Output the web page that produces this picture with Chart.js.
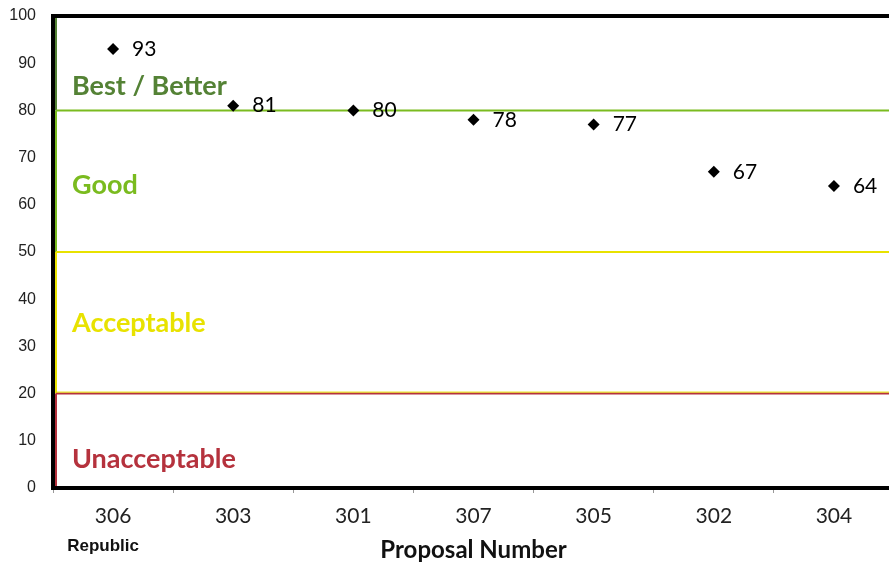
<!DOCTYPE html>
<html>
<head>
<meta charset="utf-8">
<script src="https://cdn.jsdelivr.net/npm/chart.js@4"></script>
<style>
  body { margin: 0; overflow: hidden; background: #fff; }
  #wrap { width: 900px; height: 565px; }
</style>
</head>
<body>
<div id="wrap"><canvas id="chart" width="900" height="565"></canvas></div>
<script>
// proposals and their scores
const proposals = ['306', '303', '301', '307', '305', '302', '304'];
const scores = [93, 81, 80, 78, 77, 67, 64];

// rating bands
const bandNames = ['Best / Better', 'Good', 'Acceptable', 'Unacceptable'];
const bandFrom = [80, 50, 20, 0];
const bandTo = [100, 80, 50, 20];
const bandColors = ['#548235', '#7abb1f', '#e8e200', '#b5323d'];
const bandLabelAt = [85.2, 64.2, 34.8, 6.1];

// bands: coloured edges + their names
const bands = {
    id: 'bands',
    beforeDatasetsDraw(chart) {
        const ctx = chart.ctx;
        const a = chart.chartArea;
        const y = chart.scales.y;
        ctx.save();
        ctx.lineWidth = 2;
        for (let i = 0; i < bandNames.length; i++) {
            const top = y.getPixelForValue(bandTo[i]);
            const bot = y.getPixelForValue(bandFrom[i]);
            ctx.strokeStyle = bandColors[i];
            ctx.beginPath();
            // left edge
            ctx.moveTo(a.left + 3, Math.min(bot, a.bottom - 2));
            ctx.lineTo(a.left + 3, Math.max(top, a.top + 2));
            // top edge (the top band sits under the frame)
            if (bandTo[i] < 100) {
                ctx.moveTo(a.left + 3, top);
                ctx.lineTo(a.right, top);
            }
            ctx.stroke();
        }
        // thin yellow edge above the red line
        const y20 = y.getPixelForValue(20);
        ctx.strokeStyle = bandColors[2];
        ctx.lineWidth = 1;
        ctx.beginPath();
        ctx.moveTo(a.left + 3, y20 - 1.5);
        ctx.lineTo(a.right, y20 - 1.5);
        ctx.stroke();

        ctx.font = 'bold 27px Lato';
        ctx.textBaseline = 'middle';
        for (let i = 0; i < bandNames.length; i++) {
            ctx.fillStyle = bandColors[i];
            ctx.fillText(bandNames[i], a.left + 19, y.getPixelForValue(bandLabelAt[i]));
        }
        ctx.restore();
    },
    afterDraw(chart) {
        const ctx = chart.ctx;
        const a = chart.chartArea;
        ctx.save();
        // top frame
        ctx.strokeStyle = '#000';
        ctx.lineWidth = 4;
        ctx.beginPath();
        ctx.moveTo(a.left - 2, a.top);
        ctx.lineTo(a.right, a.top);
        ctx.stroke();

        // point labels
        const meta = chart.getDatasetMeta(0);
        ctx.fillStyle = '#000';
        ctx.font = '21px Lato';
        ctx.textBaseline = 'middle';
        meta.data.forEach((pt, i) => {
            ctx.fillText(String(scores[i]), pt.x + 19, pt.y);
        });

        // note under the first proposal
        const x = chart.scales.x;
        ctx.fillStyle = '#111';
        ctx.font = 'bold 17px "Liberation Sans"';
        ctx.textAlign = 'center';
        ctx.fillText('Republic', x.getPixelForValue(0) - 10, 546);
        ctx.restore();
    }
};

const ctx = document.getElementById('chart').getContext('2d');
let chart = new Chart(ctx, {
    type: 'line',
    data: {
        labels: proposals,
        datasets: [{
            label: 'Score',
            data: scores,
            showLine: false,
            pointStyle: 'rectRot',
            pointRadius: 6,
            pointBorderWidth: 0,
            pointBackgroundColor: '#000',
            pointBorderColor: '#000'
        }]
    },
    options: {
        responsive: false,
        animation: false,
        layout: { padding: { top: 16, right: 3, left: 0, bottom: 0 } },
        plugins: {
            legend: { display: false },
            tooltip: { enabled: false }
        },
        scales: {
            x: {
                offset: true,
                afterFit(scale) { scale.height = 77; },
                grid: {
                    offset: true,
                    drawOnChartArea: false,
                    tickLength: 5,
                    color: '#999'
                },
                border: { color: '#000', width: 4 },
                ticks: {
                    color: '#222',
                    font: { family: 'Lato', size: 21 },
                    padding: 11,
                    maxRotation: 0
                },
                title: {
                    display: true,
                    text: 'Proposal Number',
                    color: '#111',
                    font: { family: 'Lato', size: 24, weight: 'bold' },
                    padding: { top: 0, bottom: 0 }
                }
            },
            y: {
                min: 0,
                max: 100,
                afterFit(scale) {
                    scale.width = 53;
                    scale.paddingTop = 0;
                    scale.paddingBottom = 0;
                },
                grid: { display: false, drawTicks: false },
                border: { color: '#000', width: 4 },
                ticks: {
                    stepSize: 10,
                    color: '#222',
                    font: { family: 'Liberation Sans', size: 16 },
                    padding: 17
                }
            }
        }
    },
    plugins: [bands]
});
</script>
</body>
</html>
